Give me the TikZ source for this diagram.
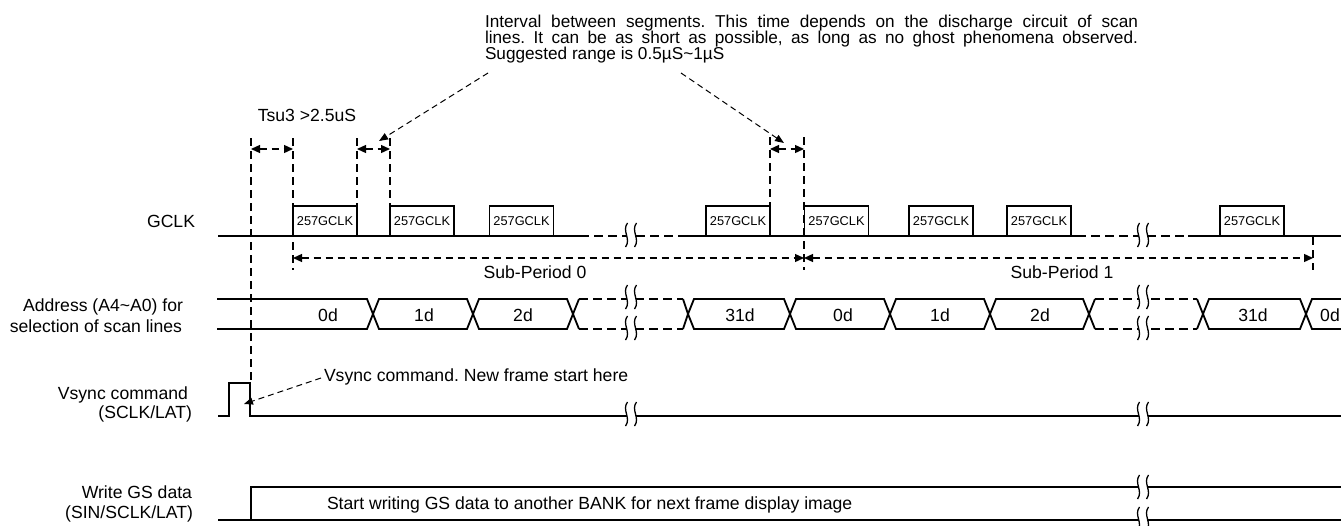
\documentclass[tikz,border=0pt]{standalone}
\usepackage{fontspec}
\setmainfont{Liberation Sans}
\usetikzlibrary{arrows.meta}
\frenchspacing
\begin{document}
\begin{tikzpicture}[x=1pt,y=-1pt,
  lbl/.style={font=\fontsize{17.6}{20}\selectfont, inner sep=0pt, outer sep=0pt},
  toptxt/.style={font=\fontsize{17.2}{20}\selectfont, inner sep=0pt, outer sep=0pt},
  sig/.style={line width=1.8pt},
  dsig/.style={line width=1.6pt, dash pattern=on 9pt off 5pt},
  vdash/.style={line width=1.8pt, dash pattern=on 8pt off 5pt},
  dim/.style={line width=1.3pt, dash pattern=on 7pt off 5pt,
     {Triangle[length=9pt,width=8pt]}-{Triangle[length=9pt,width=8pt]}},
  leader/.style={line width=1pt, dash pattern=on 6pt off 4pt, -{Triangle[length=9pt,width=7pt]}},
  brkline/.style={line width=1.3pt},
  pulse/.style={draw, line width=1.8pt, minimum width=64pt, minimum height=30pt,
     inner sep=0pt, font=\fontsize{12.8}{14}\selectfont},
  brk/.pic={
    \fill[white] (-3.5,-12) .. controls (-9.5,-4) and (0.5,4) .. (-5.5,12)
       -- (3.5,12) .. controls (9.5,4) and (-0.5,-4) .. (5.5,-12) -- cycle;
    \draw[brkline] (-3.5,-12) .. controls (-9.5,-4) and (0.5,4) .. (-5.5,12);
    \draw[brkline] (5.5,-12) .. controls (-0.5,-4) and (9.5,4) .. (3.5,12);
  }
]
\useasboundingbox (0,0) rectangle (1341,525);
\fill[white] (0,0) rectangle (1341,525);

% ---------- top annotation ----------
\node[toptxt, anchor=base west] (int1) at (485,27) {\makebox[653pt][s]{Interval between segments. This time depends on the discharge circuit of scan}};
\node[toptxt, anchor=base west] (int2) at (485,43) {\makebox[653pt][s]{lines. It can be as short as possible, as long as no ghost phenomena observed.}};
\node[toptxt, anchor=base west] (int3) at (485,59) {Suggested range is 0.5µS\textasciitilde1µS};
\coordinate (ldL) at (488,73);
\coordinate (ldR) at (681,73);
\coordinate (tipL) at (379,141);
\coordinate (tipR) at (784,143);
\draw[leader] (ldL) -- (tipL);
\draw[leader] (ldR) -- (tipR);

\node[lbl, anchor=base] (tsu) at (307,121) {Tsu3 >2.5uS};

% ---------- left labels ----------
\node[lbl, anchor=base east] (lgclk) at (195,227.3) {GCLK};
\node[lbl, anchor=base east] (laddr1) at (183,311.5) {Address (A4\textasciitilde A0) for};
\node[lbl, anchor=base east] (laddr2) at (182,332.5) {selection of scan lines};
\node[lbl, anchor=base east] (lvs1) at (188,399.3) {Vsync command};
\node[lbl, anchor=base east] (lvs2) at (192,418.5) {(SCLK/LAT)};
\node[lbl, anchor=base east] (lwr1) at (192,498.3) {Write GS data};
\node[lbl, anchor=base east] (lwr2) at (193,518.5) {(SIN/SCLK/LAT)};

% ---------- vertical dashed markers ----------
\coordinate (Atop) at (251,138); \coordinate (Abot) at (251,380);
\coordinate (Btop) at (293,138); \coordinate (Bbot) at (293,270);
\coordinate (Ctop) at (357,138); \coordinate (Cbot) at (357,206);
\coordinate (Dtop) at (390,138); \coordinate (Dbot) at (390,206);
\coordinate (Etop) at (770,137); \coordinate (Ebot) at (770,206);
\coordinate (Ftop) at (804,137); \coordinate (Fbot) at (804,270);
\coordinate (Gtop) at (1313,237); \coordinate (Gbot) at (1313,270);
\foreach \p in {A,B,C,D,E,F,G} \draw[vdash] (\p top) -- (\p bot);

% dimension arrows
\coordinate (tsuL) at (251,149); \coordinate (tsuR) at (293,149);
\coordinate (i1L) at (357,149); \coordinate (i1R) at (390,149);
\coordinate (i2L) at (770,149); \coordinate (i2R) at (804,149);
\draw[dim] (tsuL) -- (tsuR);
\draw[dim] (i1L) -- (i1R);
\draw[dim] (i2L) -- (i2R);
\coordinate (sp0L) at (293,258); \coordinate (sp0R) at (804,258);
\coordinate (sp1R) at (1313,258);
\draw[dim] (sp0L) -- (sp0R);
\draw[dim] (sp0R) -- (sp1R);
\node[lbl, anchor=base] (sp0) at (535,278) {Sub-Period 0};
\node[lbl, anchor=base] (sp1) at (1062,278) {Sub-Period 1};

% ---------- GCLK ----------
\draw[sig] (218,236) -- (580,236);
\draw[dsig] (580,236) -- (678,236);
\draw[sig] (678,236) -- (1077,236);
\draw[dsig] (1077,236) -- (1188,236);
\draw[sig] (1188,236) -- (1341,236);
\node[pulse] (p1) at (325,221) {257GCLK};
\node[pulse] (p2) at (422,221) {257GCLK};
\node[pulse] (p3) at (521.5,221) {257GCLK};
\node[pulse] (p4) at (738,221) {257GCLK};
\node[pulse] (p5) at (836.5,221) {257GCLK};
\node[pulse] (p6) at (941,221) {257GCLK};
\node[pulse] (p7) at (1039,221) {257GCLK};
\node[pulse] (p8) at (1252,221) {257GCLK};
\pic at (631,235) {brk};
\pic at (1143,235) {brk};

% ---------- Address bus ----------
\draw[sig] (217,299) -- (367,299) -- (373,314) -- (367,329) -- (217,329);
\foreach \a/\b in {373/473, 473/573, 688/790, 790/890, 890/990, 990/1089, 1203/1306}
  \draw[sig] (\a,314) -- (\a+6,299) -- (\b-6,299) -- (\b,314) -- (\b-6,329) -- (\a+6,329) -- cycle;
\draw[sig] (579,299) -- (573,314) -- (579,329);
\draw[sig] (683,299) -- (688,314) -- (683,329);
\draw[sig] (1095,299) -- (1089,314) -- (1095,329);
\draw[sig] (1197,299) -- (1203,314) -- (1197,329);
\draw[sig] (1341,299) -- (1312,299) -- (1306,314) -- (1312,329) -- (1341,329);
\draw[dsig] (579,299) -- (683,299);
\draw[dsig] (579,329) -- (683,329);
\draw[dsig] (1095,299) -- (1197,299);
\draw[dsig] (1095,329) -- (1197,329);
\pic at (631,297) {brk};
\pic at (631,328) {brk};
\pic at (1143,297) {brk};
\pic at (1143,328) {brk};
\node[lbl, anchor=base] (a1) at (328,321) {0d};
\node[lbl, anchor=base] (a2) at (424,321) {1d};
\node[lbl, anchor=base] (a3) at (523,321) {2d};
\node[lbl, anchor=base] (a4) at (740,321) {31d};
\node[lbl, anchor=base] (a5) at (843,321) {0d};
\node[lbl, anchor=base] (a6) at (940,321) {1d};
\node[lbl, anchor=base] (a7) at (1040,321) {2d};
\node[lbl, anchor=base] (a8) at (1253,321) {31d};
\node[lbl, anchor=base] (a9) at (1330,321) {0d};

% ---------- Vsync ----------
\draw[sig] (218,416) -- (229,416) -- (229,383) -- (250,383) -- (250,416) -- (1341,416);
\pic at (631,414) {brk};
\pic at (1143,414) {brk};
\node[lbl, anchor=base west] (vsn) at (324,381) {Vsync command. New frame start here};
\coordinate (vsL) at (321,378);
\coordinate (vsT) at (244,404);
\draw[leader] (vsL) -- (vsT);

% ---------- Write GS data ----------
\draw[sig] (218,520) -- (1341,520);
\draw[sig] (251,520) -- (251,487) -- (1341,487);
\pic at (1143,487) {brk};
\pic at (1143,519) {brk};
\node[lbl, anchor=base west] (wr) at (327,509) {Start writing GS data to another BANK for next frame display image};
\end{tikzpicture}
\end{document}
